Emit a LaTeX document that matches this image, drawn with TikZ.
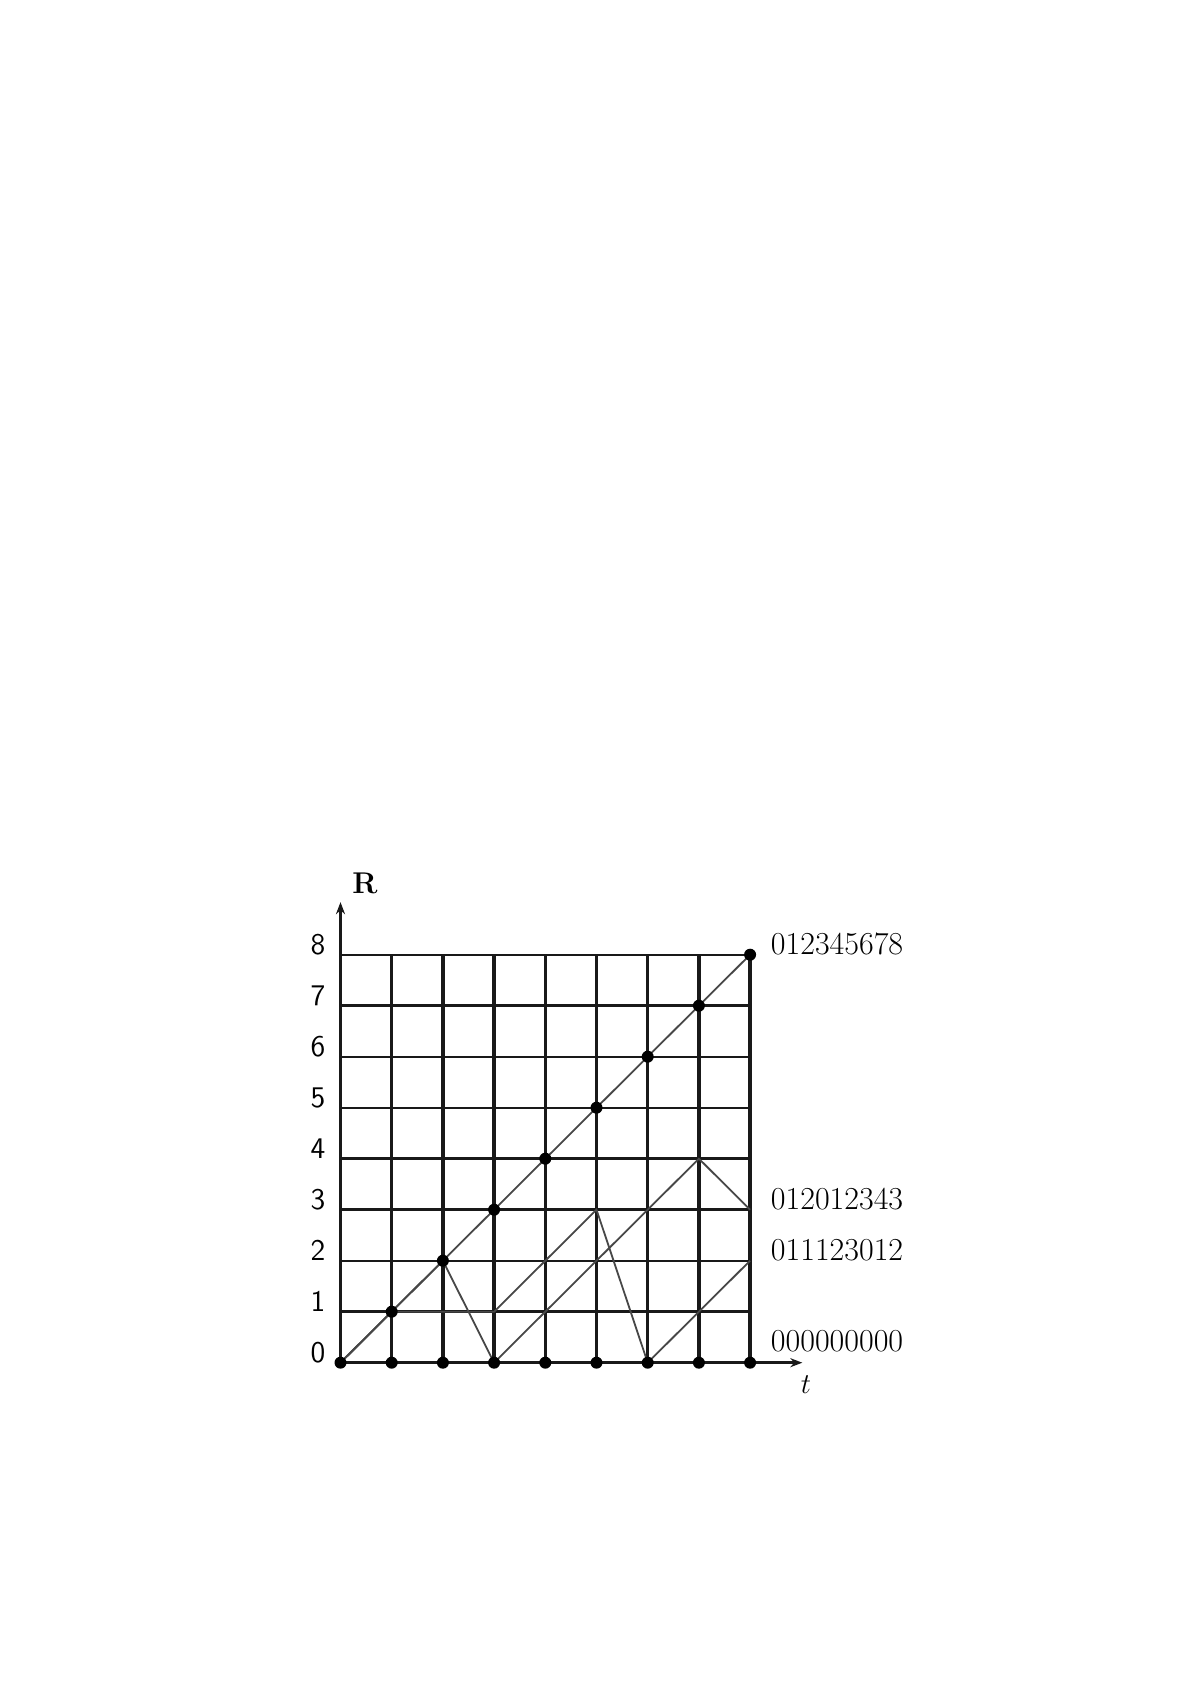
\documentclass[tikz,border=0pt]{standalone}
\usetikzlibrary{arrows.meta}
\begin{document}
\begin{tikzpicture}[x=25.6pt,y=25.5pt,
  gridthick/.style={line width=1.7pt,black!90},
  gridthin/.style={line width=1.1pt,black!90},
  axisline/.style={line width=1.7pt,black!90,-{Stealth[length=6pt,width=4.5pt]}},
  pathline/.style={line width=0.9pt,black!72},
  dot/.style={circle,fill=black,inner sep=0pt,minimum size=6pt},
  ylab/.style={font=\fontsize{15}{18}\sffamily\selectfont,anchor=base,inner sep=0pt},
  seqlab/.style={font=\fontsize{16}{19}\selectfont,anchor=base west,inner sep=0pt}]
\useasboundingbox (-170.25pt,-161.15pt) rectangle (425.25pt,681.35pt);
% grid coordinates
\foreach \i in {0,...,8}{\foreach \j in {0,...,8}{\coordinate (p-\i-\j) at (\i,\j);}}
% vertical grid lines
\foreach \i in {1,...,8}{\draw[gridthick] (p-\i-0) -- (p-\i-8);}
% horizontal grid lines
\foreach \j in {1,3,4,7}{\draw[gridthick] (p-0-\j) -- (p-8-\j);}
\foreach \j in {2,5,6,8}{\draw[gridthin] (p-0-\j) -- (p-8-\j);}
% axes
\coordinate (yend) at (0,9.03);
\coordinate (xend) at (9.02,0);
\draw[axisline] (p-0-0) -- (yend);
\draw[axisline] (p-0-0) -- (xend);
% sample paths
\draw[pathline] (p-0-0) -- (p-1-1) -- (p-2-2) -- (p-3-3) -- (p-4-4) -- (p-5-5) -- (p-6-6) -- (p-7-7) -- (p-8-8);
\draw[pathline] (p-0-0) -- (p-1-1) -- (p-2-2) -- (p-3-0) -- (p-4-1) -- (p-5-2) -- (p-6-3) -- (p-7-4) -- (p-8-3);
\draw[pathline] (p-0-0) -- (p-1-1) -- (p-2-1) -- (p-3-1) -- (p-4-2) -- (p-5-3) -- (p-6-0) -- (p-7-1) -- (p-8-2);
% dots
\foreach \i in {0,...,8}{\node[dot] (b-\i) at (p-\i-0) {};}
\foreach \i in {1,...,8}{\node[dot] (d-\i) at (p-\i-\i) {};}
% y labels
\foreach \j in {0,...,8}{\node[ylab] (yl-\j) at (-0.44,\j) {\j};}
% axis labels
\node[font=\fontsize{15}{18}\selectfont\bfseries] (Rlab) at (0.478,9.40) {R};
\node[font=\fontsize{14}{16}\selectfont] (tlab) at (9.09,-0.437) {$t$};
% sequence labels
\node[seqlab] (s1) at (8.40,8) {012345678};
\node[seqlab] (s2) at (8.40,3) {012012343};
\node[seqlab] (s3) at (8.40,2) {011123012};
\node[seqlab] (s4) at (8.40,0.21) {000000000};
\end{tikzpicture}
\end{document}
